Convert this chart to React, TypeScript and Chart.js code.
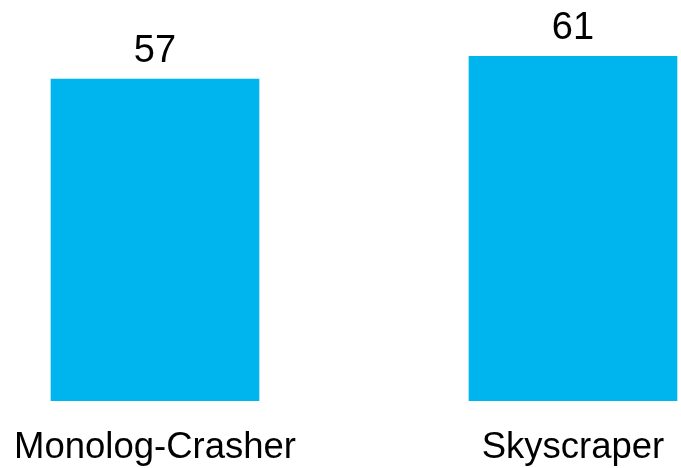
import React, { useEffect, useRef } from "react";
import { Chart, registerables } from "chart.js";

Chart.register(...registerables);

const categories: string[] = ["Monolog-Crasher", "Skyscraper"];
const values: number[] = [57, 61];

const BAR_COLOR = "#00B5EE";
const FONT = "'Liberation Sans', Arial, sans-serif";

const valueLabels = {
  id: "valueLabels",
  afterDatasetsDraw(chart: any) {
    const ctx = chart.ctx;
    const meta = chart.getDatasetMeta(0);
    ctx.save();
    ctx.fillStyle = "#000";
    ctx.font = `38px ${FONT}`;
    ctx.textAlign = "center";
    ctx.textBaseline = "alphabetic";
    meta.data.forEach((bar: any, i: number) => {
      ctx.fillText(String(values[i]), bar.x, bar.y - 17.5);
    });
    ctx.restore();
  },
};

export default function App() {
  const ref = useRef<HTMLCanvasElement | null>(null);
  useEffect(() => {
    if (!ref.current) return;
    const chart = new Chart(ref.current, {
      type: "bar",
      data: {
        labels: categories,
        datasets: [
          {
            data: values,
            backgroundColor: BAR_COLOR,
            borderWidth: 0,
            barThickness: 208,
            clip: false as any,
          } as any,
        ],
      },
      options: {
        animation: false,
        responsive: false,
        layout: { padding: { left: 155, right: 108, top: 0, bottom: 0 } },
        plugins: { legend: { display: false }, tooltip: { enabled: false } },
        scales: {
          x: {
            offset: false,
            grid: { display: false },
            border: { display: false },
            ticks: {
              color: "#000",
              font: { family: FONT, size: 36.5 },
              padding: 17,
              maxRotation: 0,
              minRotation: 0,
              autoSkip: false,
            },
            afterFit(scale: any) {
              scale.height = 67.3;
              scale.paddingLeft = 0;
              scale.paddingRight = 0;
            },
          },
          y: {
            display: false,
            min: 0,
            max: 71,
          },
        },
      },
      plugins: [valueLabels],
    });
    return () => chart.destroy();
  }, []);
  return (
    <div style={{ position: "absolute", left: 0, top: 0, width: 681, height: 468, background: "#fff" }}>
      <canvas ref={ref} width={681} height={468} />
    </div>
  );
}
